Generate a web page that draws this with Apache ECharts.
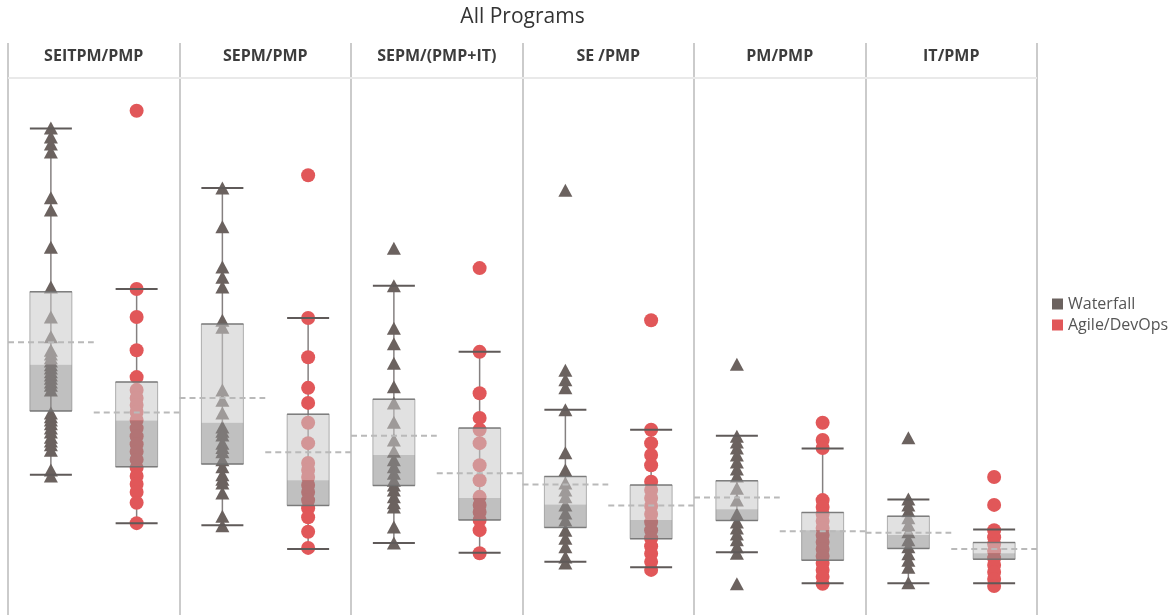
<!DOCTYPE html>
<html>
<head>
<meta charset="utf-8">
<script src="https://cdn.jsdelivr.net/npm/echarts@6/dist/echarts.min.js"></script>
<style>
html,body{margin:0;padding:0;background:#fff;}
#chart{width:1170px;height:615px;}
</style>
</head>
<body>
<div id="chart"></div>
<script>
const chartTitle = 'All Programs';
const panels = ['SEITPM/PMP', 'SEPM/PMP', 'SEPM/(PMP+IT)', 'SE /PMP', 'PM/PMP', 'IT/PMP'];
const groups = ['Waterfall', 'Agile/DevOps'];

// individual program values (per panel)
const waterfallPoints = [
  [90.7, 89.0, 87.7, 86.2, 77.7, 75.4, 68.5, 61.1, 55.5, 51.8, 49.3, 48.6, 47.9, 47.3, 46.6, 46.0, 45.3, 44.7, 44.1, 43.4, 42.8, 41.9, 37.6, 36.9, 36.3, 35.6, 34.8, 34.1, 33.1, 32.4, 31.7, 30.7, 27.0, 25.9],
  [79.5, 72.3, 64.8, 62.9, 61.1, 54.9, 53.6, 41.9, 40.0, 37.6, 35.0, 34.2, 33.5, 32.0, 31.2, 30.4, 28.9, 27.6, 26.1, 25.3, 24.6, 22.7, 18.4, 16.6],
  [68.3, 61.3, 53.4, 50.5, 46.9, 42.5, 39.5, 35.9, 32.6, 30.5, 28.9, 27.6, 26.4, 25.1, 24.2, 23.3, 22.0, 20.9, 20.1, 16.4, 13.4],
  [79.1, 45.6, 43.8, 42.3, 38.2, 30.2, 27.0, 24.6, 23.3, 22.0, 20.5, 19.0, 17.7, 15.8, 14.3, 12.7, 10.8, 9.7],
  [46.7, 33.3, 32.2, 31.1, 29.8, 28.5, 27.2, 25.9, 23.6, 21.4, 18.8, 17.3, 16.2, 15.1, 14.0, 12.7, 11.5, 5.8],
  [33.0, 21.6, 20.5, 19.4, 18.1, 16.8, 15.5, 14.0, 12.7, 11.4, 10.2, 8.9, 6.0]
];
const agilePoints = [
  [93.9, 60.7, 55.5, 49.3, 44.3, 41.9, 40.4, 39.1, 37.8, 36.3, 34.8, 33.3, 31.8, 30.4, 28.9, 27.4, 25.9, 24.4, 22.9, 20.9, 17.1],
  [81.9, 55.3, 48.0, 42.3, 39.5, 35.8, 32.0, 28.3, 27.0, 25.7, 24.2, 22.9, 21.4, 19.9, 18.2, 15.5, 12.5],
  [64.6, 49.0, 41.3, 36.7, 34.5, 32.0, 27.9, 25.1, 22.0, 20.5, 19.2, 17.7, 15.8, 11.5],
  [54.9, 34.5, 32.0, 29.8, 27.9, 24.8, 23.3, 21.8, 20.3, 18.8, 17.3, 15.8, 14.3, 12.8, 11.4, 9.9, 8.4],
  [35.8, 32.6, 31.1, 21.4, 20.1, 18.8, 17.5, 16.2, 14.9, 13.6, 12.3, 11.0, 9.7, 8.4, 7.1, 5.8],
  [25.7, 20.5, 15.8, 14.5, 13.2, 11.9, 10.6, 9.3, 8.0, 6.7, 5.4]
];

// box statistics per panel: [lower whisker, Q1, median, Q3, upper whisker]
const waterfallBox = [
  [26.1, 38.0, 46.6, 60.2, 90.6],
  [16.7, 28.1, 35.8, 54.2, 79.5],
  [13.4, 24.1, 29.8, 40.2, 61.3],
  [9.9, 16.3, 20.6, 25.8, 38.2],
  [11.7, 17.6, 19.7, 25.0, 33.4],
  [5.9, 12.4, 14.9, 18.4, 21.5]
];
const agileBox = [
  [17.1, 27.6, 36.2, 43.4, 60.7],
  [12.3, 20.4, 25.1, 37.4, 55.3],
  [11.6, 17.7, 21.8, 34.8, 49.0],
  [8.9, 14.2, 17.7, 24.2, 34.5],
  [5.9, 10.2, 15.8, 19.1, 31.0],
  [5.9, 10.4, 11.5, 13.5, 15.9]
];
// averages (dashed reference lines)
const waterfallMean = [50.8, 40.4, 33.4, 24.3, 21.9, 15.3];
const agileMean = [37.7, 30.3, 26.4, 20.4, 15.6, 12.3];

const WF_COLOR = '#6b625f';
const AG_COLOR = '#e15759';
const PANEL_LEFT = 8, PANEL_W = 171.5, PLOT_TOP = 78, HEADER_TOP = 43, BOTTOM = 615;
const FONT = '"Open Sans", "Noto Sans", sans-serif';

const grids = [], xAxes = [], yAxes = [], series = [], graphics = [];

panels.forEach((name, i) => {
  const left = PANEL_LEFT + i * PANEL_W;
  grids.push({left: left, width: PANEL_W, top: PLOT_TOP, height: BOTTOM - PLOT_TOP, show: false});
  xAxes.push({type: 'category', gridIndex: i, data: groups, show: false, boundaryGap: true});
  yAxes.push({type: 'value', gridIndex: i, min: 0, max: 100, show: false});

  const boxData = [
    [0].concat(waterfallBox[i], [waterfallMean[i]]),
    [1].concat(agileBox[i], [agileMean[i]])
  ];

  // whisker stems (under points)
  series.push({
    type: 'custom', name: 'whisker', xAxisIndex: i, yAxisIndex: i, z: 1, silent: true,
    encode: {x: 0, y: [1, 5]},
    data: boxData,
    renderItem: function (params, api) {
      const c = api.value(0);
      const lo = api.coord([c, api.value(1)]);
      const hi = api.coord([c, api.value(5)]);
      return {type: 'line', shape: {x1: lo[0], y1: lo[1], x2: hi[0], y2: hi[1]},
        style: {stroke: '#858080', lineWidth: 1.5}};
    }
  });

  // points
  series.push({
    type: 'scatter', name: 'Waterfall', xAxisIndex: i, yAxisIndex: i, z: 2, silent: true,
    symbol: 'triangle', symbolSize: [14, 13],
    itemStyle: {color: WF_COLOR, opacity: 1},
    data: waterfallPoints[i].map(v => [0, v])
  });
  series.push({
    type: 'scatter', name: 'Agile/DevOps', xAxisIndex: i, yAxisIndex: i, z: 2, silent: true,
    symbol: 'circle', symbolSize: 14,
    itemStyle: {color: AG_COLOR, opacity: 1},
    data: agilePoints[i].map(v => [1, v])
  });

  // boxes, whisker caps, mean lines (over points)
  series.push({
    type: 'custom', name: 'box', xAxisIndex: i, yAxisIndex: i, z: 3, silent: true,
    encode: {x: 0, y: [1, 2, 3, 4, 5, 6]},
    data: boxData,
    renderItem: function (params, api) {
      const c = api.value(0);
      const band = api.size([1, 0])[0];
      const bw = 42;
      const x = api.coord([c, 0])[0];
      const yLo = api.coord([c, api.value(1)])[1];
      const yQ1 = api.coord([c, api.value(2)])[1];
      const yMed = api.coord([c, api.value(3)])[1];
      const yQ3 = api.coord([c, api.value(4)])[1];
      const yHi = api.coord([c, api.value(5)])[1];
      const yMean = api.coord([c, api.value(6)])[1];
      return {type: 'group', children: [
        {type: 'rect', shape: {x: x - bw / 2, y: yQ3, width: bw, height: yMed - yQ3},
          style: {fill: 'rgba(200,200,200,0.55)'}},
        {type: 'rect', shape: {x: x - bw / 2, y: yMed, width: bw, height: yQ1 - yMed},
          style: {fill: 'rgba(140,140,140,0.55)'}},
        {type: 'rect', shape: {x: x - bw / 2, y: yQ3, width: bw, height: yQ1 - yQ3},
          style: {fill: null, stroke: 'rgba(120,120,120,0.55)', lineWidth: 1}},
        {type: 'line', shape: {x1: x - bw / 2, y1: yQ3, x2: x + bw / 2, y2: yQ3},
          style: {stroke: 'rgba(110,110,110,0.8)', lineWidth: 1.5}},
        {type: 'line', shape: {x1: x - bw / 2, y1: yQ1, x2: x + bw / 2, y2: yQ1},
          style: {stroke: 'rgba(110,110,110,0.8)', lineWidth: 1.5}},
        {type: 'line', shape: {x1: x - bw / 2, y1: yHi, x2: x + bw / 2, y2: yHi},
          style: {stroke: '#5f5a59', lineWidth: 2}},
        {type: 'line', shape: {x1: x - bw / 2, y1: yLo, x2: x + bw / 2, y2: yLo},
          style: {stroke: '#5f5a59', lineWidth: 2}},
        {type: 'line', shape: {x1: x - band / 2, y1: yMean, x2: x + band / 2, y2: yMean},
          style: {stroke: '#b9b9b9', lineWidth: 2, lineDash: [6, 4]}}
      ]};
    }
  });

  // panel header
  graphics.push({type: 'text', x: left + PANEL_W / 2, y: 56, silent: true,
    style: {text: name, font: 'bold 16px ' + FONT, fill: '#3c3c3c', textAlign: 'center', textVerticalAlign: 'middle'}});
});

// panel separators and header rule
for (let k = 0; k <= panels.length; k++) {
  const x = Math.round(PANEL_LEFT + k * PANEL_W);
  graphics.push({type: 'line', silent: true, shape: {x1: x, y1: HEADER_TOP, x2: x, y2: BOTTOM},
    style: {stroke: '#cbcbcb', lineWidth: 2}});
}
graphics.push({type: 'line', silent: true,
  shape: {x1: PANEL_LEFT, y1: PLOT_TOP, x2: PANEL_LEFT + panels.length * PANEL_W, y2: PLOT_TOP},
  style: {stroke: '#e9e9e9', lineWidth: 2}});
graphics.push({type: 'text', silent: true, x: PANEL_LEFT + panels.length * PANEL_W / 2, y: 17,
  style: {text: chartTitle, font: '21px ' + FONT, fill: '#333', textAlign: 'center', textVerticalAlign: 'middle'}});

const chart = echarts.init(document.getElementById('chart'));
chart.setOption({
  animation: false,
  backgroundColor: '#fff',
  grid: grids,
  xAxis: xAxes,
  yAxis: yAxes,
  legend: {
    orient: 'vertical', left: 1047, top: 291, itemWidth: 11, itemHeight: 11, itemGap: 5,
    selectedMode: false,
    data: [{name: 'Waterfall', icon: 'rect'}, {name: 'Agile/DevOps', icon: 'rect'}],
    textStyle: {fontSize: 16, color: '#555', fontFamily: FONT}
  },
  graphic: graphics,
  series: series
});
</script>
</body>
</html>
